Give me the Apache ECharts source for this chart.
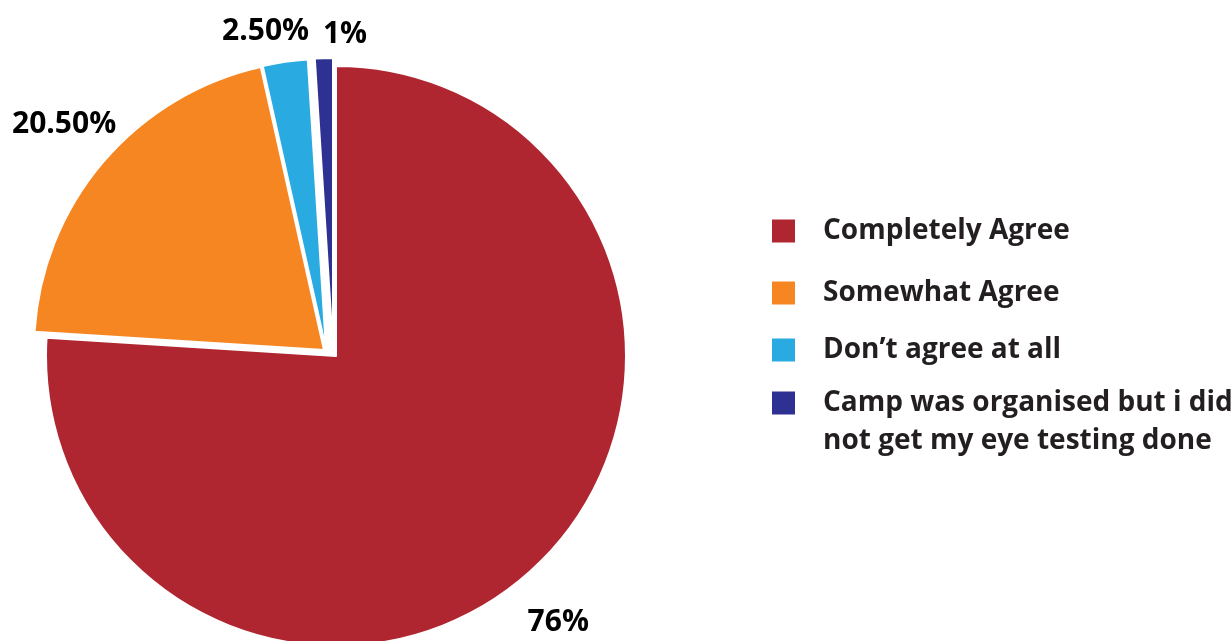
<!DOCTYPE html>
<html>
<head>
<meta charset="utf-8">
<script src="https://cdn.jsdelivr.net/npm/echarts@6/dist/echarts.min.js"></script>
<style>
  html, body { margin: 0; padding: 0; background: #ffffff; }
  #chart { width: 1232px; height: 641px; }
</style>
</head>
<body>
<div id="chart"></div>
<script>
const categories = [
  'Completely Agree',
  'Somewhat Agree',
  'Don\u2019t agree at all',
  'Camp was organised but i did\nnot get my eye testing done'
];
const values = [76, 20.5, 2.5, 1];
const valueLabels = ['76%', '20.50%', '2.50%', '1%'];

// styling / layout (not data)
const colors = ['#af2630', '#f68622', '#29abe2', '#2e3192'];
const sliceCenters = [[336, 356], [324, 350], [326, 349], [333, 348]];
const labelNudges = [[-18, 11], [-5, -4], [-21, 23], [20, 29]];
const legendTops = [212, 274, 331, 346];

const hidden = { color: 'transparent', borderWidth: 0 };
const sum = arr => arr.reduce((a, b) => a + b, 0);

const sliceSeries = categories.map((name, i) => ({
  type: 'pie',
  center: sliceCenters[i],
  radius: 290,
  startAngle: 90,
  clockwise: true,
  silent: true,
  animation: false,
  label: { show: false },
  labelLine: { show: false },
  itemStyle: { borderColor: '#ffffff', borderWidth: 2 },
  data: [
    { name: '__pre' + i, value: sum(values.slice(0, i)), itemStyle: hidden },
    { name: name, value: values[i], itemStyle: { color: colors[i] } },
    { name: '__post' + i, value: sum(values.slice(i + 1)), itemStyle: hidden }
  ]
}));

const labelSeries = {
  type: 'pie',
  center: sliceCenters[0],
  radius: [332, 364],
  startAngle: 90,
  clockwise: true,
  silent: true,
  animation: false,
  avoidLabelOverlap: false,
  itemStyle: hidden,
  label: {
    show: true,
    position: 'inside',
    formatter: p => valueLabels[p.dataIndex],
    fontFamily: 'Open Sans',
    fontWeight: 'bold',
    fontSize: 30,
    color: '#000000'
  },
  labelLine: { show: false },
  labelLayout: p => ({ dx: labelNudges[p.dataIndex][0], dy: labelNudges[p.dataIndex][1] }),
  data: categories.map((name, i) => ({ name: name, value: values[i] }))
};

const legends = categories.map((name, i) => {
  const multi = name.indexOf('\n') >= 0;
  return {
    data: [name],
    orient: 'vertical',
    left: 770,
    top: legendTops[i],
    padding: 0,
    icon: 'rect',
    itemWidth: 25,
    itemHeight: 25,
    selectedMode: false,
    formatter: n => (multi ? '\n' + n : n),
    textStyle: {
      fontFamily: 'Open Sans',
      fontWeight: 'bold',
      fontSize: 28,
      color: '#231f20',
      lineHeight: 38,
      padding: [0, 0, 0, 22]
    }
  };
});

const chart = echarts.init(document.getElementById('chart'), null, { renderer: 'canvas' });
chart.setOption({
  backgroundColor: '#ffffff',
  animation: false,
  legend: legends,
  series: sliceSeries.concat([labelSeries])
});
</script>
</body>
</html>
